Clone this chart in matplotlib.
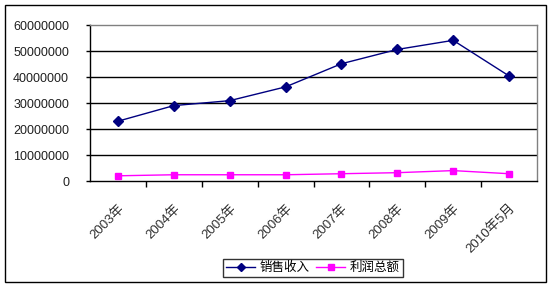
import matplotlib
matplotlib.use("Agg")
import matplotlib.pyplot as plt
from matplotlib.patches import Rectangle
from matplotlib.transforms import ScaledTranslation

plt.rcParams['font.family'] = ['Liberation Sans', 'Noto Sans CJK SC', 'DejaVu Sans']

categories = ["2003年", "2004年", "2005年", "2006年", "2007年", "2008年", "2009年", "2010年5月"]
sales = [23000000, 29000000, 30900000, 36200000, 45100000, 50600000, 54100000, 40400000]
profit = [2000000, 2400000, 2400000, 2400000, 2800000, 3200000, 4000000, 2800000]
y_ticks = [0, 10000000, 20000000, 30000000, 40000000, 50000000, 60000000]

W, H = 551, 289
fig = plt.figure(figsize=(W / 100, H / 100), dpi=100)
fig.patch.set_facecolor('white')

# outer chart border
fig.patches.append(Rectangle((5 / W, 1 - 282 / H), 541 / W, 277 / H,
                             transform=fig.transFigure, fill=False,
                             edgecolor='black', linewidth=1.0))

ax = fig.add_axes([90 / W, 1 - 181 / H, 447 / W, 156 / H])
x = list(range(len(categories)))

for yt in y_ticks[1:-1]:
    ax.axhline(yt, color='black', linewidth=1.0, zorder=1)

ax.plot(x, sales, color='#000080', linewidth=1.0, marker='D', markersize=5,
        markerfacecolor='#000080', markeredgecolor='#000080', label='销售收入', zorder=3)
ax.plot(x, profit, color='#FF00FF', linewidth=1.0, marker='s', markersize=5,
        markerfacecolor='#FF00FF', markeredgecolor='#FF00FF', label='利润总额', zorder=3)

ax.set_xlim(-0.5, len(categories) - 0.5)
ax.set_ylim(0, 60000000)
ax.set_yticks(y_ticks)
ax.set_yticklabels([str(v) for v in y_ticks], fontsize=9, color='#202020')

ax.set_xticks([i + 0.5 for i in range(len(categories) - 1)])
ax.set_xticklabels([])
ax.set_xticks(x, minor=True)
labels = ax.set_xticklabels(categories, minor=True, rotation=45, ha='right', va='top',
                            rotation_mode='anchor', fontsize=9.5, color='#303030')
shift = ScaledTranslation(-7 / 100, 0, fig.dpi_scale_trans)
for lab in labels:
    lab.set_transform(lab.get_transform() + shift)
ax.tick_params(axis='x', which='major', length=4, width=1, direction='out', color='black')
ax.tick_params(axis='x', which='minor', length=0, pad=15)
ax.tick_params(axis='y', length=3, width=1, direction='out', pad=12)

for side in ['top', 'right']:
    ax.spines[side].set_color('#808080')
    ax.spines[side].set_linewidth(1.0)
for side in ['left', 'bottom']:
    ax.spines[side].set_color('black')
    ax.spines[side].set_linewidth(1.0)

leg = fig.legend(loc='center', bbox_to_anchor=(313 / W, 1 - 268 / H), ncol=2,
                 fontsize=9, frameon=True, fancybox=False, edgecolor='black',
                 handlelength=2.3, handletextpad=0.4, columnspacing=0.5,
                 borderpad=0.25, borderaxespad=0, markerscale=0.8)
leg.get_frame().set_linewidth(1.0)

fig.savefig('out.png', dpi=100, facecolor='white')
